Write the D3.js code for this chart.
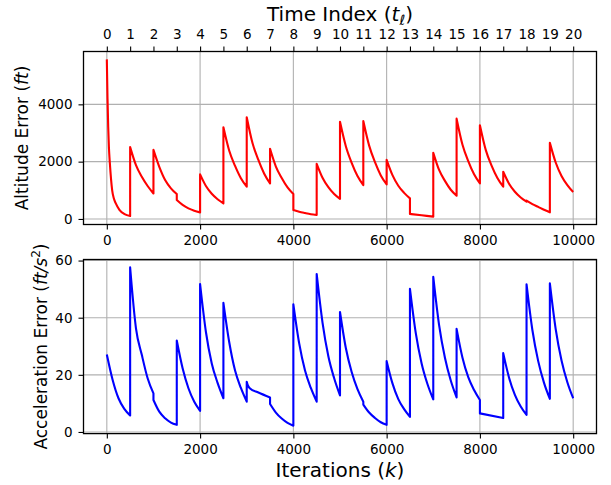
<!DOCTYPE html>
<html>
<head>
<meta charset="utf-8">
<script src="https://cdn.jsdelivr.net/npm/d3@7"></script>
<style>
body { margin: 0; background: #fff; }
text { font-family: "DejaVu Sans", sans-serif; fill: #000; }
</style>
</head>
<body>
<svg id="chart" width="611" height="485"></svg>
<script>
////////////////////// data //////////////////////
// altitude error (ft), [iteration, value]; a repeated iteration is a jump
var altitude = [
  [0,5570],[15,4200],[30,3200],[45,2500],[65,1950],[90,1400],[115,1000],[150,720],[190,550],[270,320],[380,170],[500,105],
  [500,2510],[625,1880],[750,1470],[875,1150],[1000,890],
  [1000,2410],[1125,1820],[1250,1360],[1375,1070],[1500,870],
  [1500,660],[1625,490],[1750,370],[1875,290],[2000,230],
  [2000,1555],[2125,1150],[2250,880],[2375,690],[2500,545],
  [2500,3200],[2625,2380],[2750,1850],[2875,1420],[3000,1125],
  [3000,3550],[3125,2640],[3250,2060],[3375,1580],[3500,1240],
  [3500,2450],[3625,1830],[3750,1430],[3875,1100],[4000,870],
  [4000,313],[4125,250],[4250,205],[4375,165],[4500,139],
  [4500,1926],[4625,1440],[4750,1110],[4875,870],[5000,700],
  [5000,3390],[5125,2540],[5250,1960],[5375,1500],[5500,1183],
  [5500,3420],[5625,2560],[5750,1980],[5875,1520],[6000,1206],
  [6000,2065],[6125,1530],[6250,1160],[6375,910],[6500,719],
  [6500,174],[6750,127],[7000,81],
  [7000,2308],[7125,1710],[7250,1330],[7375,1020],[7500,812],
  [7500,3500],[7625,2600],[7750,2020],[7875,1560],[8000,1241],
  [8000,3270],[8125,2410],[8250,1860],[8375,1430],[8500,1125],
  [8500,1647],[8625,1230],[8750,950],[8875,750],[9000,603],
  [9000,640],[9125,520],[9250,420],[9375,320],[9500,232],
  [9500,2656],[9625,1970],[9750,1500],[9875,1180],[10000,940]
];

// acceleration error (ft/s^2), [iteration, value]
var acceleration = [
  [0,27.1],[125,18.2],[250,11.8],[375,8.1],[500,5.8],
  [500,57.6],[625,36.3],[750,27],[875,18.8],[1000,13.5],
  [1000,11.2],[1125,7.1],[1250,4.8],[1375,3.3],[1500,2.5],
  [1500,32],[1625,22.3],[1750,15.3],[1875,10.6],[2000,7.4],
  [2000,51.8],[2125,35],[2250,24],[2375,17.2],[2500,11.8],
  [2500,45.2],[2625,31.4],[2750,21.5],[2875,15.4],[3000,10.6],
  [3000,17.6],[3025,16.3],[3065,15.3],[3250,13.8],[3500,12.1],
  [3500,9.8],[3625,6.8],[3750,4.7],[3875,3.2],[4000,2.2],
  [4000,44.7],[4125,31],[4250,21.5],[4375,15.4],[4500,10.6],
  [4500,55.3],[4625,38.3],[4750,26.5],[4875,18.8],[5000,12.8],
  [5000,42],[5125,29.4],[5250,21],[5375,15],[5500,10.6],
  [5500,9.6],[5625,6.8],[5750,4.9],[5875,3.4],[6000,2.5],
  [6000,24.8],[6125,17],[6250,11.5],[6375,8],[6500,5.3],
  [6500,50.1],[6625,34.6],[6750,24],[6875,16.8],[7000,11.4],
  [7000,54.3],[7125,37.4],[7250,26],[7375,18],[7500,12.1],
  [7500,36.1],[7625,26.1],[7750,19.2],[7875,14.7],[8000,11.2],
  [8000,6.5],[8500,4.9],
  [8500,27.6],[8625,19],[8750,13],[8875,8.9],[9000,6],
  [9000,51.7],[9125,35.7],[9250,24.8],[9375,17.2],[9500,11.6],
  [9500,52],[9625,36],[9750,25],[9875,17.4],[10000,11.8]
];

var iterTicks = [0, 2000, 4000, 6000, 8000, 10000];
var timeIndex = [0,1,2,3,4,5,6,7,8,9,10,11,12,13,14,15,16,17,18,19,20];
var iterPerIndex = 500;
var altTicks = [0, 2000, 4000];
var accTicks = [0, 20, 40, 60];

////////////////////// layout //////////////////////
var svg = d3.select("#chart");
var left = 83.5, right = 596.5;
var topBox = [51.5, 224.5];
var botBox = [259.5, 433.6];
var tickFont = "13.5px";

// matplotlib-like 5% margins
function padded(ext) {
  var m = (ext[1] - ext[0]) * 0.05;
  return [ext[0] - m, ext[1] + m];
}

var x = d3.scaleLinear().domain(padded([0, 10000])).range([left, right]);
var yAlt = d3.scaleLinear().domain(padded(d3.extent(altitude, d => d[1]))).range([topBox[1], topBox[0]]);
var yAcc = d3.scaleLinear().domain(padded(d3.extent(acceleration, d => d[1]))).range([botBox[1], botBox[0]]);

// one path, smooth inside each segment, straight jumps between them
function sawPath(points, ys) {
  var line = d3.line().x(d => x(d[0])).y(d => ys(d[1])).curve(d3.curveMonotoneX);
  var segs = [], cur = [];
  points.forEach(function(p, i) {
    if (i > 0 && p[0] === points[i - 1][0]) { segs.push(cur); cur = []; }
    cur.push(p);
  });
  segs.push(cur);
  return segs.map(function(s, i) {
    var d = line(s);
    return i === 0 ? d : "L" + d.slice(1);
  }).join("");
}

function panel(box, ys, yTicks, data, color) {
  var g = svg.append("g");
  // grid
  g.selectAll(".vg").data(iterTicks).enter().append("line")
    .attr("x1", d => x(d)).attr("x2", d => x(d))
    .attr("y1", box[0]).attr("y2", box[1])
    .attr("stroke", "#b0b0b0").attr("stroke-width", 1.1);
  g.selectAll(".hg").data(yTicks).enter().append("line")
    .attr("x1", left).attr("x2", right)
    .attr("y1", d => ys(d)).attr("y2", d => ys(d))
    .attr("stroke", "#b0b0b0").attr("stroke-width", 1.1);

  g.append("path")
    .attr("d", sawPath(data, ys))
    .attr("fill", "none")
    .attr("stroke", color)
    .attr("stroke-width", 2.1)
    .attr("stroke-linejoin", "round");

  var xa = g.append("g").attr("transform", "translate(0," + box[1] + ")")
    .call(d3.axisBottom(x).tickValues(iterTicks).tickSize(5).tickPadding(6).tickFormat(d3.format("d")));
  var ya = g.append("g").attr("transform", "translate(" + left + ",0)")
    .call(d3.axisLeft(ys).tickValues(yTicks).tickSize(5).tickPadding(6).tickFormat(d3.format("d")));
  [xa, ya].forEach(function(a) {
    a.select(".domain").remove();
    a.selectAll("line").attr("stroke", "#000").attr("stroke-width", 1.1);
    a.selectAll("text").attr("font-size", tickFont).attr("font-family", "DejaVu Sans");
  });

  g.append("rect")
    .attr("x", left).attr("y", box[0])
    .attr("width", right - left).attr("height", box[1] - box[0])
    .attr("fill", "none").attr("stroke", "#000").attr("stroke-width", 1.3);
  return g;
}

panel(topBox, yAlt, altTicks, altitude, "#ff0000");
panel(botBox, yAcc, accTicks, acceleration, "#0000ff");

// time index axis along the top of the first panel
var ta = svg.append("g").attr("transform", "translate(0," + topBox[0] + ")")
  .call(d3.axisTop(x).tickValues(timeIndex.map(d => d * iterPerIndex)).tickSize(5).tickPadding(8)
    .tickFormat(d => d / iterPerIndex));
ta.select(".domain").remove();
ta.selectAll("line").attr("stroke", "#000").attr("stroke-width", 1.1);
ta.selectAll("text").attr("font-size", tickFont).attr("font-family", "DejaVu Sans");

var midX = (left + right) / 2;

var tl = svg.append("text").attr("x", midX).attr("y", 21)
  .attr("text-anchor", "middle").attr("font-size", "20px");
tl.append("tspan").text("Time Index (");
tl.append("tspan").attr("font-style", "italic").text("t");
tl.append("tspan").attr("font-style", "italic").attr("font-size", "14px").attr("dy", "4").text("ℓ");
tl.append("tspan").attr("dy", "-4").text(")");

var xl = svg.append("text").attr("x", midX).attr("y", 477)
  .attr("text-anchor", "middle").attr("font-size", "20px");
xl.append("tspan").text("Iterations (");
xl.append("tspan").attr("font-style", "italic").text("k");
xl.append("tspan").text(")");

var al = svg.append("text")
  .attr("transform", "translate(28," + (topBox[0] + topBox[1]) / 2 + ") rotate(-90)")
  .attr("text-anchor", "middle").attr("font-size", "17px");
al.append("tspan").text("Altitude Error (");
al.append("tspan").attr("font-style", "italic").text("ft");
al.append("tspan").text(")");

var cl = svg.append("text")
  .attr("transform", "translate(47," + (botBox[0] + botBox[1]) / 2 + ") rotate(-90)")
  .attr("text-anchor", "middle").attr("font-size", "17px");
cl.append("tspan").text("Acceleration Error (");
cl.append("tspan").attr("font-style", "italic").text("ft/s");
cl.append("tspan").attr("font-size", "12px").attr("dy", "-7").text("2");
cl.append("tspan").attr("dy", "7").text(")");
</script>
</body>
</html>
